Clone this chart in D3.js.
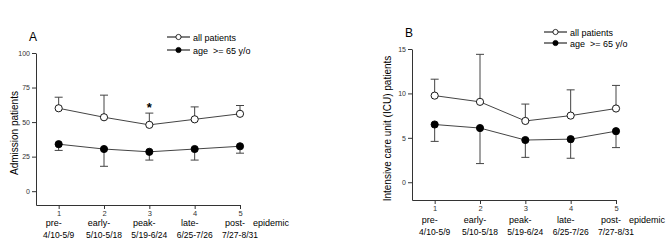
<!DOCTYPE html>
<html>
<head>
<meta charset="utf-8">
<script src="https://cdn.jsdelivr.net/npm/d3@7"></script>
<style>
  body { margin: 0; background: #fff; }
  svg { display: block; font-family: "Liberation Sans", Arial, sans-serif; }
</style>
</head>
<body>
<div id="chart"></div>
<script>
// Epidemic phases
const periods = [1, 2, 3, 4, 5];
const phaseNames = ["pre-", "early-", "peak-", "late-", "post-"];
const phaseDates = ["4/10-5/9", "5/10-5/18", "5/19-6/24", "6/25-7/26", "7/27-8/31"];

// Panel A: admission patients (mean, error bar end)
const admAll = [60, 53.5, 48, 52, 56];
const admAllErr = [68, 69.5, 56.5, 61, 62];
const admOld = [34, 30.5, 28.5, 30.5, 32.5];
const admOldErr = [29.5, 18, 22.5, 22.5, 27.5];
const admTicks = [0, 25, 50, 75, 100];

// Panel B: ICU patients
const icuAll = [9.75, 9.05, 6.9, 7.5, 8.3];
const icuAllErr = [11.6, 14.4, 8.8, 10.4, 10.9];
const icuOld = [6.5, 6.1, 4.75, 4.85, 5.75];
const icuOldErr = [4.6, 2.1, 2.8, 2.7, 3.9];
const icuTicks = [0, 5, 10, 15];

const svg = d3.select("#chart").append("svg")
    .attr("width", 669)
    .attr("height", 240);

function drawPanel(p) {
    const x = d3.scaleLinear().domain([0.5, 5]).range([p.left, p.right]);
    const y = d3.scaleLinear().domain(p.yDomain).range([p.bottom, p.top]);
    const g = svg.append("g");

    // Y axis
    const yAxis = g.append("g")
        .attr("transform", `translate(${p.left},0)`)
        .call(d3.axisLeft(y).tickValues(p.ticks).tickFormat(d3.format("d"))
            .tickSize(4).tickSizeOuter(0).tickPadding(2));
    yAxis.selectAll("text").style("font-size", "7px").attr("fill", "#333");

    // X axis
    const xAxis = g.append("g")
        .attr("transform", `translate(0,${p.bottom})`)
        .call(d3.axisBottom(x).tickValues(periods).tickFormat(d3.format("d"))
            .tickSize(4).tickSizeOuter(0).tickPadding(2));
    xAxis.selectAll("text").style("font-size", "7.5px").attr("fill", "#333");
    g.selectAll(".domain, .tick line").attr("stroke", "#333");

    // Phase labels
    g.selectAll(".phase").data(phaseNames).enter().append("text")
        .attr("x", (d, i) => x(periods[i]) - 5)
        .attr("y", p.bottom + p.phaseY)
        .attr("text-anchor", "middle")
        .style("font-size", "9px")
        .text(d => d);
    g.selectAll(".dates").data(phaseDates).enter().append("text")
        .attr("x", (d, i) => x(periods[i]))
        .attr("y", p.bottom + p.dateY)
        .attr("text-anchor", "middle")
        .style("font-size", "8.5px")
        .text(d => d);
    g.append("text")
        .attr("x", x(5) + 13)
        .attr("y", p.bottom + p.phaseY)
        .style("font-size", "9px")
        .text("epidemic");

    // Y label
    g.append("text")
        .attr("transform", `translate(${p.labelX},${(p.top + p.bottom) / 2 + 4}) rotate(-90)`)
        .attr("text-anchor", "middle")
        .style("font-size", "10px")
        .text(p.yLabel);

    // Panel letter
    g.append("text")
        .attr("x", p.left - 3)
        .attr("y", p.letterY)
        .attr("text-anchor", "middle")
        .style("font-size", "12px")
        .text(p.letter);

    const series = [
        {values: p.all, err: p.allErr, fill: "#fff"},
        {values: p.old, err: p.oldErr, fill: "#000"}
    ];

    series.forEach(s => {
        // error bars
        g.selectAll(null).data(periods).enter().append("line")
            .attr("x1", d => x(d)).attr("x2", d => x(d))
            .attr("y1", (d, i) => y(s.values[i]))
            .attr("y2", (d, i) => y(s.err[i]))
            .attr("stroke", "#444").attr("stroke-width", 1);
        g.selectAll(null).data(periods).enter().append("line")
            .attr("x1", d => x(d) - 4).attr("x2", d => x(d) + 4)
            .attr("y1", (d, i) => y(s.err[i]))
            .attr("y2", (d, i) => y(s.err[i]))
            .attr("stroke", "#444").attr("stroke-width", 1);

        // connecting line
        const line = d3.line().x((d, i) => x(periods[i])).y(d => y(d));
        g.append("path")
            .datum(s.values)
            .attr("fill", "none")
            .attr("stroke", "#444")
            .attr("stroke-width", 1)
            .attr("d", line);

        g.selectAll(null).data(s.values).enter().append("circle")
            .attr("cx", (d, i) => x(periods[i]))
            .attr("cy", d => y(d))
            .attr("r", 3.6)
            .attr("fill", s.fill)
            .attr("stroke", "#000")
            .attr("stroke-width", 0.9);
    });

    // Significance mark
    if (p.star) {
        g.append("text")
            .attr("x", x(p.star))
            .attr("y", y(p.allErr[p.star - 1]) - 1)
            .attr("text-anchor", "middle")
            .style("font-size", "13px")
            .style("font-weight", "bold")
            .text("*");
    }

    // Legend
    const legendItems = [
        {label: "all patients", fill: "#fff"},
        {label: "age  >= 65 y/o", fill: "#000"}
    ];
    legendItems.forEach((d, i) => {
        const ly = p.legendY + i * p.legendGap;
        g.append("line")
            .attr("x1", p.legendX).attr("x2", p.legendX + 23)
            .attr("y1", ly).attr("y2", ly)
            .attr("stroke", "#000").attr("stroke-width", 1);
        g.append("circle")
            .attr("cx", p.legendX + 11.5).attr("cy", ly).attr("r", 2.6)
            .attr("fill", d.fill).attr("stroke", "#000").attr("stroke-width", 0.8);
        g.append("text")
            .attr("x", p.legendX + 26)
            .attr("y", ly + 3.5)
            .attr("xml:space", "preserve")
            .style("white-space", "pre")
            .style("font-size", "9px")
            .text(d.label);
    });
}

drawPanel({
    letter: "A", letterY: 41,
    left: 36, right: 240, top: 53, bottom: 205,
    yDomain: [-10, 100], ticks: admTicks,
    yLabel: "Admission patients", labelX: 18,
    all: admAll, allErr: admAllErr, old: admOld, oldErr: admOldErr,
    star: 3,
    phaseY: 21, dateY: 33,
    legendX: 167, legendY: 37, legendGap: 13
});

drawPanel({
    letter: "B", letterY: 37,
    left: 412, right: 616, top: 49, bottom: 200,
    yDomain: [-2, 15], ticks: icuTicks,
    yLabel: "Intensive care unit (ICU) patients", labelX: 391,
    all: icuAll, allErr: icuAllErr, old: icuOld, oldErr: icuOldErr,
    star: null,
    phaseY: 23, dateY: 35,
    legendX: 544, legendY: 32, legendGap: 11
});
</script>
</body>
</html>
